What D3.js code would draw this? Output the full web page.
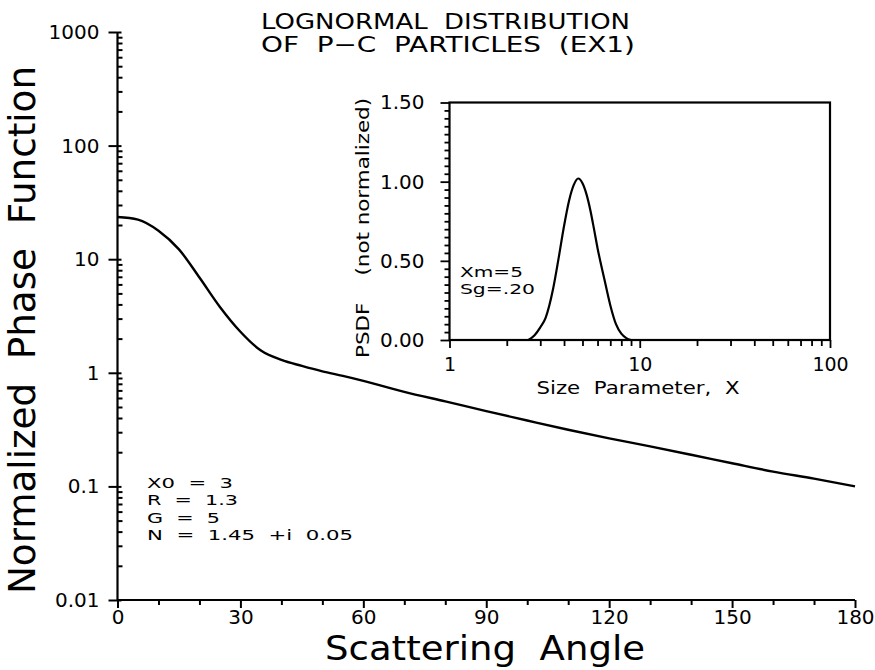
<!DOCTYPE html>
<html>
<head>
<meta charset="utf-8">
<script src="https://cdn.jsdelivr.net/npm/d3@7"></script>
<style>
  body { margin: 0; background: #fff; }
  svg { display: block; }
  text { font-family: "DejaVu Sans", "Liberation Sans", Arial, sans-serif; fill: #000; }
</style>
</head>
<body>
<svg id="chart" width="875" height="670"></svg>
<script>
// ---- Data ----
const titleLines = ["LOGNORMAL  DISTRIBUTION", "OF  P\u2212C  PARTICLES  (EX1)"];
const angles = [0, 5, 10, 15, 20, 25, 30, 35, 40, 45, 50, 55, 60, 70, 80, 90, 100, 110, 120, 130, 140, 150, 160, 170, 180];
const phaseValues = [23.5, 22.3, 17.8, 12.2, 6.9, 3.8, 2.3, 1.57, 1.3, 1.15, 1.03, 0.94, 0.85, 0.68, 0.56, 0.46, 0.38, 0.315, 0.265, 0.225, 0.19, 0.16, 0.135, 0.117, 0.1];
const xTicks = [0, 30, 60, 90, 120, 150, 180];
const xMinorTicks = [10, 20, 40, 50, 70, 80, 100, 110, 130, 140, 160, 170];
const yTicks = [0.01, 0.1, 1, 10, 100, 1000];
const yTickLabels = ["0.01", "0.1", "1", "10", "100", "1000"];
const annotations = ["X0  =  3", "R  =  1.3", "G  =  5", "N  =  1.45  +i  0.05"];

// inset: size distribution
const sizeParam = [2.6, 2.8, 3.0, 3.2, 3.5, 3.75, 4.0, 4.25, 4.5, 4.75, 5.0, 5.25, 5.5, 5.75, 6.0, 6.5, 7.0, 7.5, 8.0, 8.5, 9.0];
const psdfValues = [0.0, 0.03, 0.08, 0.14, 0.32, 0.52, 0.72, 0.88, 0.98, 1.02, 0.99, 0.92, 0.82, 0.70, 0.58, 0.39, 0.22, 0.1, 0.04, 0.012, 0.0];
const insetYTicks = [0, 0.5, 1.0, 1.5];
const insetXTicks = [1, 10, 100];
const insetNotes = ["Xm=5", "Sg=.20"];

// ---- Drawing ----
const svg = d3.select("#chart");
const FONT = "DejaVu Sans, Liberation Sans, Arial, sans-serif";
const THIN = "Liberation Sans, Arial, sans-serif";

// main scales
const x = d3.scaleLinear().domain([0, 180]).range([117.5, 855]);
const y = d3.scaleLog().domain([0.01, 1000]).range([600, 32]);

const yMinor = [];
for (let d = 0.01; d < 1000; d *= 10) for (let k = 2; k <= 9; k++) yMinor.push(+(d * k).toPrecision(3));

const gyMaj = svg.append("g").attr("transform", `translate(${x(0)},0)`)
  .call(d3.axisLeft(y).tickValues(yTicks).tickFormat((d, i) => yTickLabels[i]).tickSize(9).tickPadding(9));
const gyMin = svg.append("g").attr("transform", `translate(${x(0)},0)`)
  .call(d3.axisRight(y).tickValues(yMinor).tickFormat("").tickSize(5));
const gyMaj2 = svg.append("g").attr("transform", `translate(${x(0)},0)`)
  .call(d3.axisRight(y).tickValues(yTicks).tickFormat("").tickSize(4));
const gxMaj = svg.append("g").attr("transform", `translate(0,${y(0.01)})`)
  .call(d3.axisBottom(x).tickValues(xTicks).tickSize(8).tickPadding(2));
const gxMin = svg.append("g").attr("transform", `translate(0,${y(0.01)})`)
  .call(d3.axisBottom(x).tickValues(xMinorTicks).tickFormat("").tickSize(5));

[gyMaj, gyMin, gyMaj2, gxMaj, gxMin].forEach(g => {
  g.select("path.domain").remove();
  g.selectAll(".tick line").attr("stroke", "#000").attr("stroke-width", 2);
  g.selectAll(".tick text").attr("font-size", 20).attr("font-family", FONT).attr("fill", "#000");
});
svg.append("line").attr("x1", x(0)).attr("x2", x(0)).attr("y1", y(1000)).attr("y2", y(0.01))
  .attr("stroke", "#000").attr("stroke-width", 2.2);
svg.append("line").attr("x1", x(0)).attr("x2", x(180)).attr("y1", y(0.01)).attr("y2", y(0.01))
  .attr("stroke", "#000").attr("stroke-width", 2.2);

// main curve
const line = d3.line().x((d, i) => x(angles[i])).y((d, i) => y(phaseValues[i])).curve(d3.curveMonotoneX);
svg.append("path").attr("d", line(angles)).attr("fill", "none").attr("stroke", "#000").attr("stroke-width", 2.4);

// title
const titleWidths = [369, 374];
svg.selectAll("text.title").data(titleLines).join("text").attr("class", "title")
  .attr("x", 261).attr("y", (d, i) => 29 + i * 23)
  .attr("font-size", 22).attr("xml:space", "preserve")
  .attr("textLength", (d, i) => titleWidths[i]).attr("lengthAdjust", "spacingAndGlyphs")
  .text(d => d);

// axis titles
svg.append("text").attr("transform", "translate(35,330) rotate(-90)").attr("text-anchor", "middle")
  .attr("font-family", THIN).attr("font-size", 38).attr("xml:space", "preserve")
  .attr("textLength", 528).attr("lengthAdjust", "spacingAndGlyphs")
  .text("Normalized  Phase  Function");
svg.append("text").attr("x", 485).attr("y", 660).attr("text-anchor", "middle")
  .attr("font-family", THIN).attr("font-size", 33).attr("xml:space", "preserve")
  .attr("textLength", 320).attr("lengthAdjust", "spacingAndGlyphs")
  .text("Scattering  Angle");

// annotations
const noteWidths = [86, 91, 73, 206];
svg.selectAll("text.note").data(annotations).join("text").attr("class", "note")
  .attr("x", 147).attr("y", (d, i) => 488 + i * 17.3)
  .attr("font-size", 14.8).attr("xml:space", "preserve")
  .attr("textLength", (d, i) => noteWidths[i]).attr("lengthAdjust", "spacingAndGlyphs")
  .text(d => d);

// ---- Inset ----
const xi = d3.scaleLog().domain([1, 100]).range([449.5, 830]);
const yi = d3.scaleLinear().domain([0, 1.5]).range([340, 102.5]);
const insetYMinor = d3.range(0, 31).map(i => +(i * 0.05).toFixed(2)).filter(v => insetYTicks.indexOf(v) < 0);
const insetXMinor = [];
for (let d = 1; d < 100; d *= 10) for (let k = 2; k <= 9; k++) insetXMinor.push(d * k);

const giy = svg.append("g").attr("transform", `translate(${xi(1)},0)`)
  .call(d3.axisLeft(yi).tickValues(insetYTicks).tickFormat(d3.format(".2f")).tickSize(9).tickPadding(16));
const giy2 = svg.append("g").attr("transform", `translate(${xi(1)},0)`)
  .call(d3.axisLeft(yi).tickValues(insetYMinor).tickFormat("").tickSize(5));
const gix = svg.append("g").attr("transform", `translate(0,${yi(0)})`)
  .call(d3.axisBottom(xi).tickValues(insetXTicks).tickFormat(d3.format("d")).tickSize(8).tickPadding(10));
const gix2 = svg.append("g").attr("transform", `translate(0,${yi(0)})`)
  .call(d3.axisBottom(xi).tickValues(insetXMinor).tickFormat("").tickSize(6));
[giy, giy2, gix, gix2].forEach(g => {
  g.select("path.domain").remove();
  g.selectAll(".tick line").attr("stroke", "#000").attr("stroke-width", 1.8);
  g.selectAll(".tick text").attr("font-size", 19).attr("font-family", FONT).attr("fill", "#000");
});
giy.selectAll(".tick text").attr("font-size", 20);
svg.append("rect").attr("x", xi(1)).attr("y", yi(1.5)).attr("width", xi(100) - xi(1)).attr("height", yi(0) - yi(1.5))
  .attr("fill", "none").attr("stroke", "#000").attr("stroke-width", 2.2);

const iline = d3.line().x((d, i) => xi(sizeParam[i])).y((d, i) => yi(psdfValues[i])).curve(d3.curveMonotoneX);
svg.append("path").attr("d", iline(sizeParam)).attr("fill", "none").attr("stroke", "#000").attr("stroke-width", 2.2);

svg.append("text").attr("transform", "translate(369,228) rotate(-90)").attr("text-anchor", "middle")
  .attr("font-size", 18).attr("xml:space", "preserve")
  .attr("textLength", 260).attr("lengthAdjust", "spacingAndGlyphs")
  .text("PSDF    (not normalized)");
svg.append("text").attr("x", 638).attr("y", 394).attr("text-anchor", "middle")
  .attr("font-size", 17).attr("xml:space", "preserve")
  .attr("textLength", 203).attr("lengthAdjust", "spacingAndGlyphs")
  .text("Size  Parameter,  X");
const inoteWidths = [63, 75];
svg.selectAll("text.inote").data(insetNotes).join("text").attr("class", "inote")
  .attr("x", 460).attr("y", (d, i) => 277 + i * 17)
  .attr("font-size", 14.5)
  .attr("textLength", (d, i) => inoteWidths[i]).attr("lengthAdjust", "spacingAndGlyphs")
  .text(d => d);
</script>
</body>
</html>
